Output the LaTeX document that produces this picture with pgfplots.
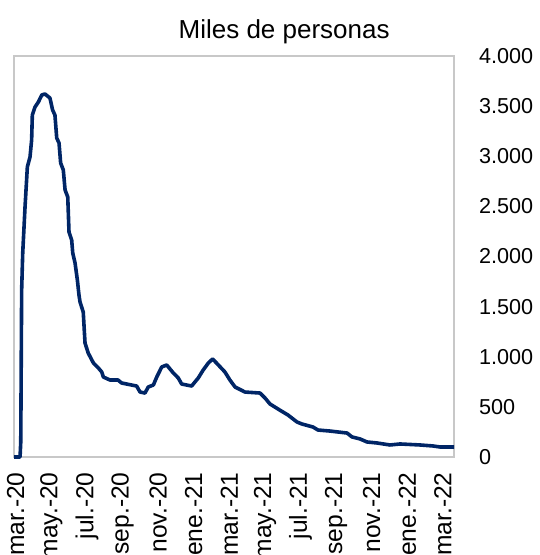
\documentclass[border=0pt]{standalone}
\usepackage{fontspec}
\setmainfont{Liberation Sans}
\usepackage{pgfplots}
\pgfplotsset{compat=1.18}
\definecolor{navy}{HTML}{002566}
\definecolor{frame}{HTML}{C8C8C8}

\begin{document}
\begin{tikzpicture}
  \begin{axis}[
      at={(0,0)}, anchor=south west,
      scale only axis,
      width=220pt, height=200.5pt,
      xmin=0, xmax=24.72,
      ymin=0, ymax=4000,
      axis line style={frame, line width=0.8pt},
      major tick length=0pt,
      ytick={0,500,...,4000},
      yticklabel pos=right,
      yticklabel style={anchor=west, xshift=9pt, font=\fontsize{10.8}{13}\selectfont},
      /pgf/number format/.cd, 1000 sep={.}, assume math mode=true,
      /pgfplots/.cd,
      xtick={0.1,2.1,4.1,6.1,8.1,10.1,12.1,14.1,16.1,18.1,20.1,22.1,24.1},
      xticklabels={mar.-20,may.-20,jul.-20,sep.-20,nov.-20,ene.-21,mar.-21,may.-21,jul.-21,sep.-21,nov.-21,ene.-22,mar.-22},
      xticklabel style={yshift=-7.5pt, rotate=90, anchor=east, inner sep=0pt, font=\fontsize{12.3}{14}\selectfont},
      clip=false,
    ]
    \addplot[navy, line width=1.8pt, line join=round] coordinates {
      (0,0) (0.34,0) (0.38,150) (0.43,1666) (0.49,2035) (0.62,2494) (0.75,2893)
      (0.90,2993) (0.99,3162) (1.03,3411) (1.18,3491) (1.37,3541) (1.56,3611)
      (1.74,3621) (2.02,3581) (2.17,3461) (2.30,3411) (2.40,3182) (2.53,3132)
      (2.62,2933) (2.77,2863) (2.87,2663) (3.02,2594) (3.09,2244) (3.24,2165)
      (3.30,2035) (3.43,1935) (3.56,1766) (3.65,1616) (3.71,1546) (3.89,1446)
      (3.99,1137) (4.17,1037) (4.46,938) (4.74,888) (4.93,848) (5.02,798)
      (5.39,768) (5.84,768) (6.05,738) (6.61,718) (6.89,708) (7.08,648)
      (7.36,638) (7.54,698) (7.83,718) (8.02,798) (8.30,898) (8.58,918)
      (8.95,838) (9.23,788) (9.42,728) (9.98,708) (10.35,788) (10.63,868)
      (10.92,938) (11.16,978) (11.48,918) (11.85,848) (12.13,768) (12.42,698)
      (12.98,648) (13.82,638) (14.10,589) (14.38,529) (14.83,479) (15.39,419)
      (15.90,349) (16.18,329) (16.80,299) (17.08,269) (17.75,259) (18.71,239)
      (18.99,200) (19.44,180) (19.83,150) (20.39,140) (21.12,120) (21.69,130)
      (22.81,120) (23.54,110) (23.93,100) (24.72,100)
    };
    \node[anchor=base, font=\fontsize{13}{15}\selectfont] at (rel axis cs:0.614,1) [yshift=9pt] {Miles de personas};
  \end{axis}
  \pgfresetboundingbox
  \useasboundingbox (-7pt,-49pt) rectangle (262.5pt,228.5pt);
\end{tikzpicture}
\end{document}
